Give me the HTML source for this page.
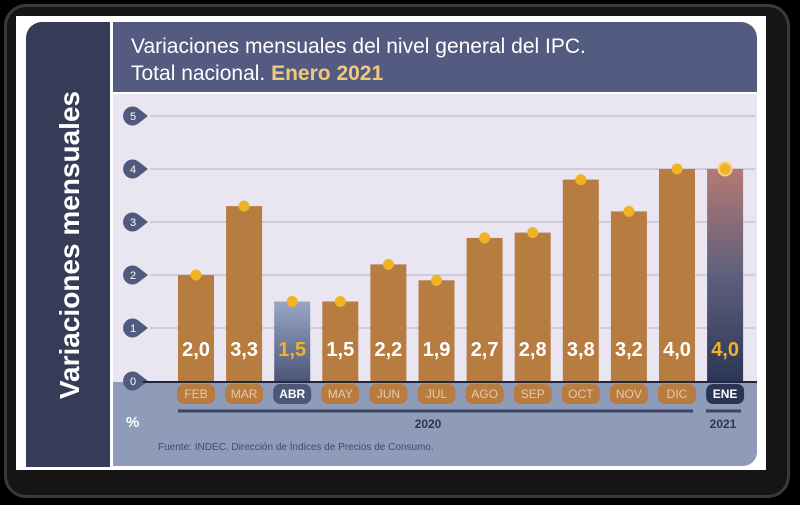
<!DOCTYPE html>
<html><head><meta charset="utf-8"><style>
body{margin:0;width:800px;height:505px;background:#000;overflow:hidden;font-family:"Liberation Sans",sans-serif}
#frame{position:absolute;left:4px;top:4px;width:780px;height:488px;background:#151515;border:3px solid #3a3a3a;border-radius:22px}
#card{position:absolute;left:16px;top:16px;width:750px;height:454px;background:#fff}
</style></head><body>
<div id="frame"></div>
<div id="card"></div>
<svg width="800" height="505" style="position:absolute;left:0;top:0">
<defs>
<linearGradient id="gAbr" x1="0" y1="0" x2="0" y2="1"><stop offset="0" stop-color="#9aa6c6"/><stop offset="1" stop-color="#4c5679"/></linearGradient>
<linearGradient id="gEne" x1="0" y1="0" x2="0" y2="1"><stop offset="0" stop-color="#b47a72"/><stop offset="0.5" stop-color="#5f5f7c"/><stop offset="1" stop-color="#2c3656"/></linearGradient>
</defs>
<path d="M26,38 a16,16 0 0 1 16,-16 H110 V467 H26Z" fill="#363c57"/>
<text transform="translate(79,245) rotate(-90)" text-anchor="middle" fill="#fff" font-size="28" font-weight="bold">Variaciones mensuales</text>
<path d="M113,22 H741 a16,16 0 0 1 16,16 V92 H113Z" fill="#535c80"/>
<text x="131" y="53" fill="#fff" font-size="21">Variaciones mensuales del nivel general del IPC.</text>
<text x="131" y="80" fill="#fff" font-size="21">Total nacional. <tspan fill="#f1c978" font-weight="bold">Enero 2021</tspan></text>
<rect x="113" y="94" width="644" height="288" fill="#e9e6f1"/>
<path d="M113,382 H757 V452 a14,14 0 0 1 -14,14 H113Z" fill="#8e9bb9"/>
<g id="grid"></g><g id="bars"></g>
<line x1="143" y1="382" x2="757" y2="382" stroke="#1f2640" stroke-width="2"/>
<line x1="178" y1="411" x2="693" y2="411" stroke="#3b4463" stroke-width="3"/>
<line x1="706" y1="411" x2="741" y2="411" stroke="#3b4463" stroke-width="3"/>
<text x="428" y="428" text-anchor="middle" fill="#2e3655" font-size="12" font-weight="bold">2020</text>
<text x="723" y="428" text-anchor="middle" fill="#2e3655" font-size="12" font-weight="bold">2021</text>
<text x="126" y="427" fill="#fff" font-size="15" font-weight="bold">%</text>
<text x="158" y="450" fill="#3f4a6e" font-size="10">Fuente: INDEC. Dirección de Índices de Precios de Consumo.</text>
</svg>
<script>
const months=["FEB","MAR","ABR","MAY","JUN","JUL","AGO","SEP","OCT","NOV","DIC","ENE"];
const values=[2.0,3.3,1.5,1.5,2.2,1.9,2.7,2.8,3.8,3.2,4.0,4.0];
const valueLabels=["2,0","3,3","1,5","1,5","2,2","1,9","2,7","2,8","3,8","3,2","4,0","4,0"];
const yTicks=[0,1,2,3,4,5];
const NS="http://www.w3.org/2000/svg";
const y=v=>381-v*53;
const x=i=>196+i*48.1;
function mk(t,a,p){const e=document.createElementNS(NS,t);for(const k in a)e.setAttribute(k,a[k]);p.appendChild(e);return e;}
const grid=document.getElementById('grid'),bars=document.getElementById('bars');
yTicks.forEach(t=>{
 if(t>0){const l=mk('line',{x1:150,x2:755,y1:y(t),y2:y(t),stroke:'#c6c3d2','stroke-width':1.5},grid);
 
 }
 const m=mk('path',{d:`M148,${y(t)} L139,${y(t)-7} A9.5,9.5 0 1 0 139,${y(t)+7} Z`,fill:'#505a7e'},grid);
 
 
 const tx=mk('text',{x:133,y:y(t)+4,'text-anchor':'middle',fill:'#fff','font-size':11},grid);tx.textContent=t;
 
 
});
months.forEach((m,i)=>{
 const cx=x(i),w=36;
 const fill=m==="ABR"?"url(#gAbr)":m==="ENE"?"url(#gEne)":"#b77c40";
 const r=mk('rect',{x:cx-w/2,y:y(values[i]),width:w,height:y(0)-y(values[i]),fill},bars);
 
 
 const d=mk('circle',{cx,cy:y(values[i]),r:5.5,fill:'#f0b323'},bars);
 if(m==="ENE"){d.setAttribute('stroke','#f6d27a');d.setAttribute('stroke-width',2);d.setAttribute('r',6.5);}
 
 
 const hl=(m==="ABR"||m==="ENE");
 const v=mk('text',{x:cx,y:356,'text-anchor':'middle',fill:hl?'#f0b323':'#fff','font-size':20,'font-weight':'bold'},bars);
 v.textContent=valueLabels[i];
 
 
 const p=mk('rect',{x:cx-19,y:384,width:38,height:20,rx:7,fill:hl?(m==="ENE"?'#2b3453':'#4c5679'):'#b77c40'},bars);
 
 
 const t=mk('text',{x:cx,y:398,'text-anchor':'middle',fill:hl?'#fff':'#e8c9a6','font-size':12,'font-weight':hl?'bold':'normal'},bars);
 t.textContent=m;
 
 
});
</script>
</body></html>
